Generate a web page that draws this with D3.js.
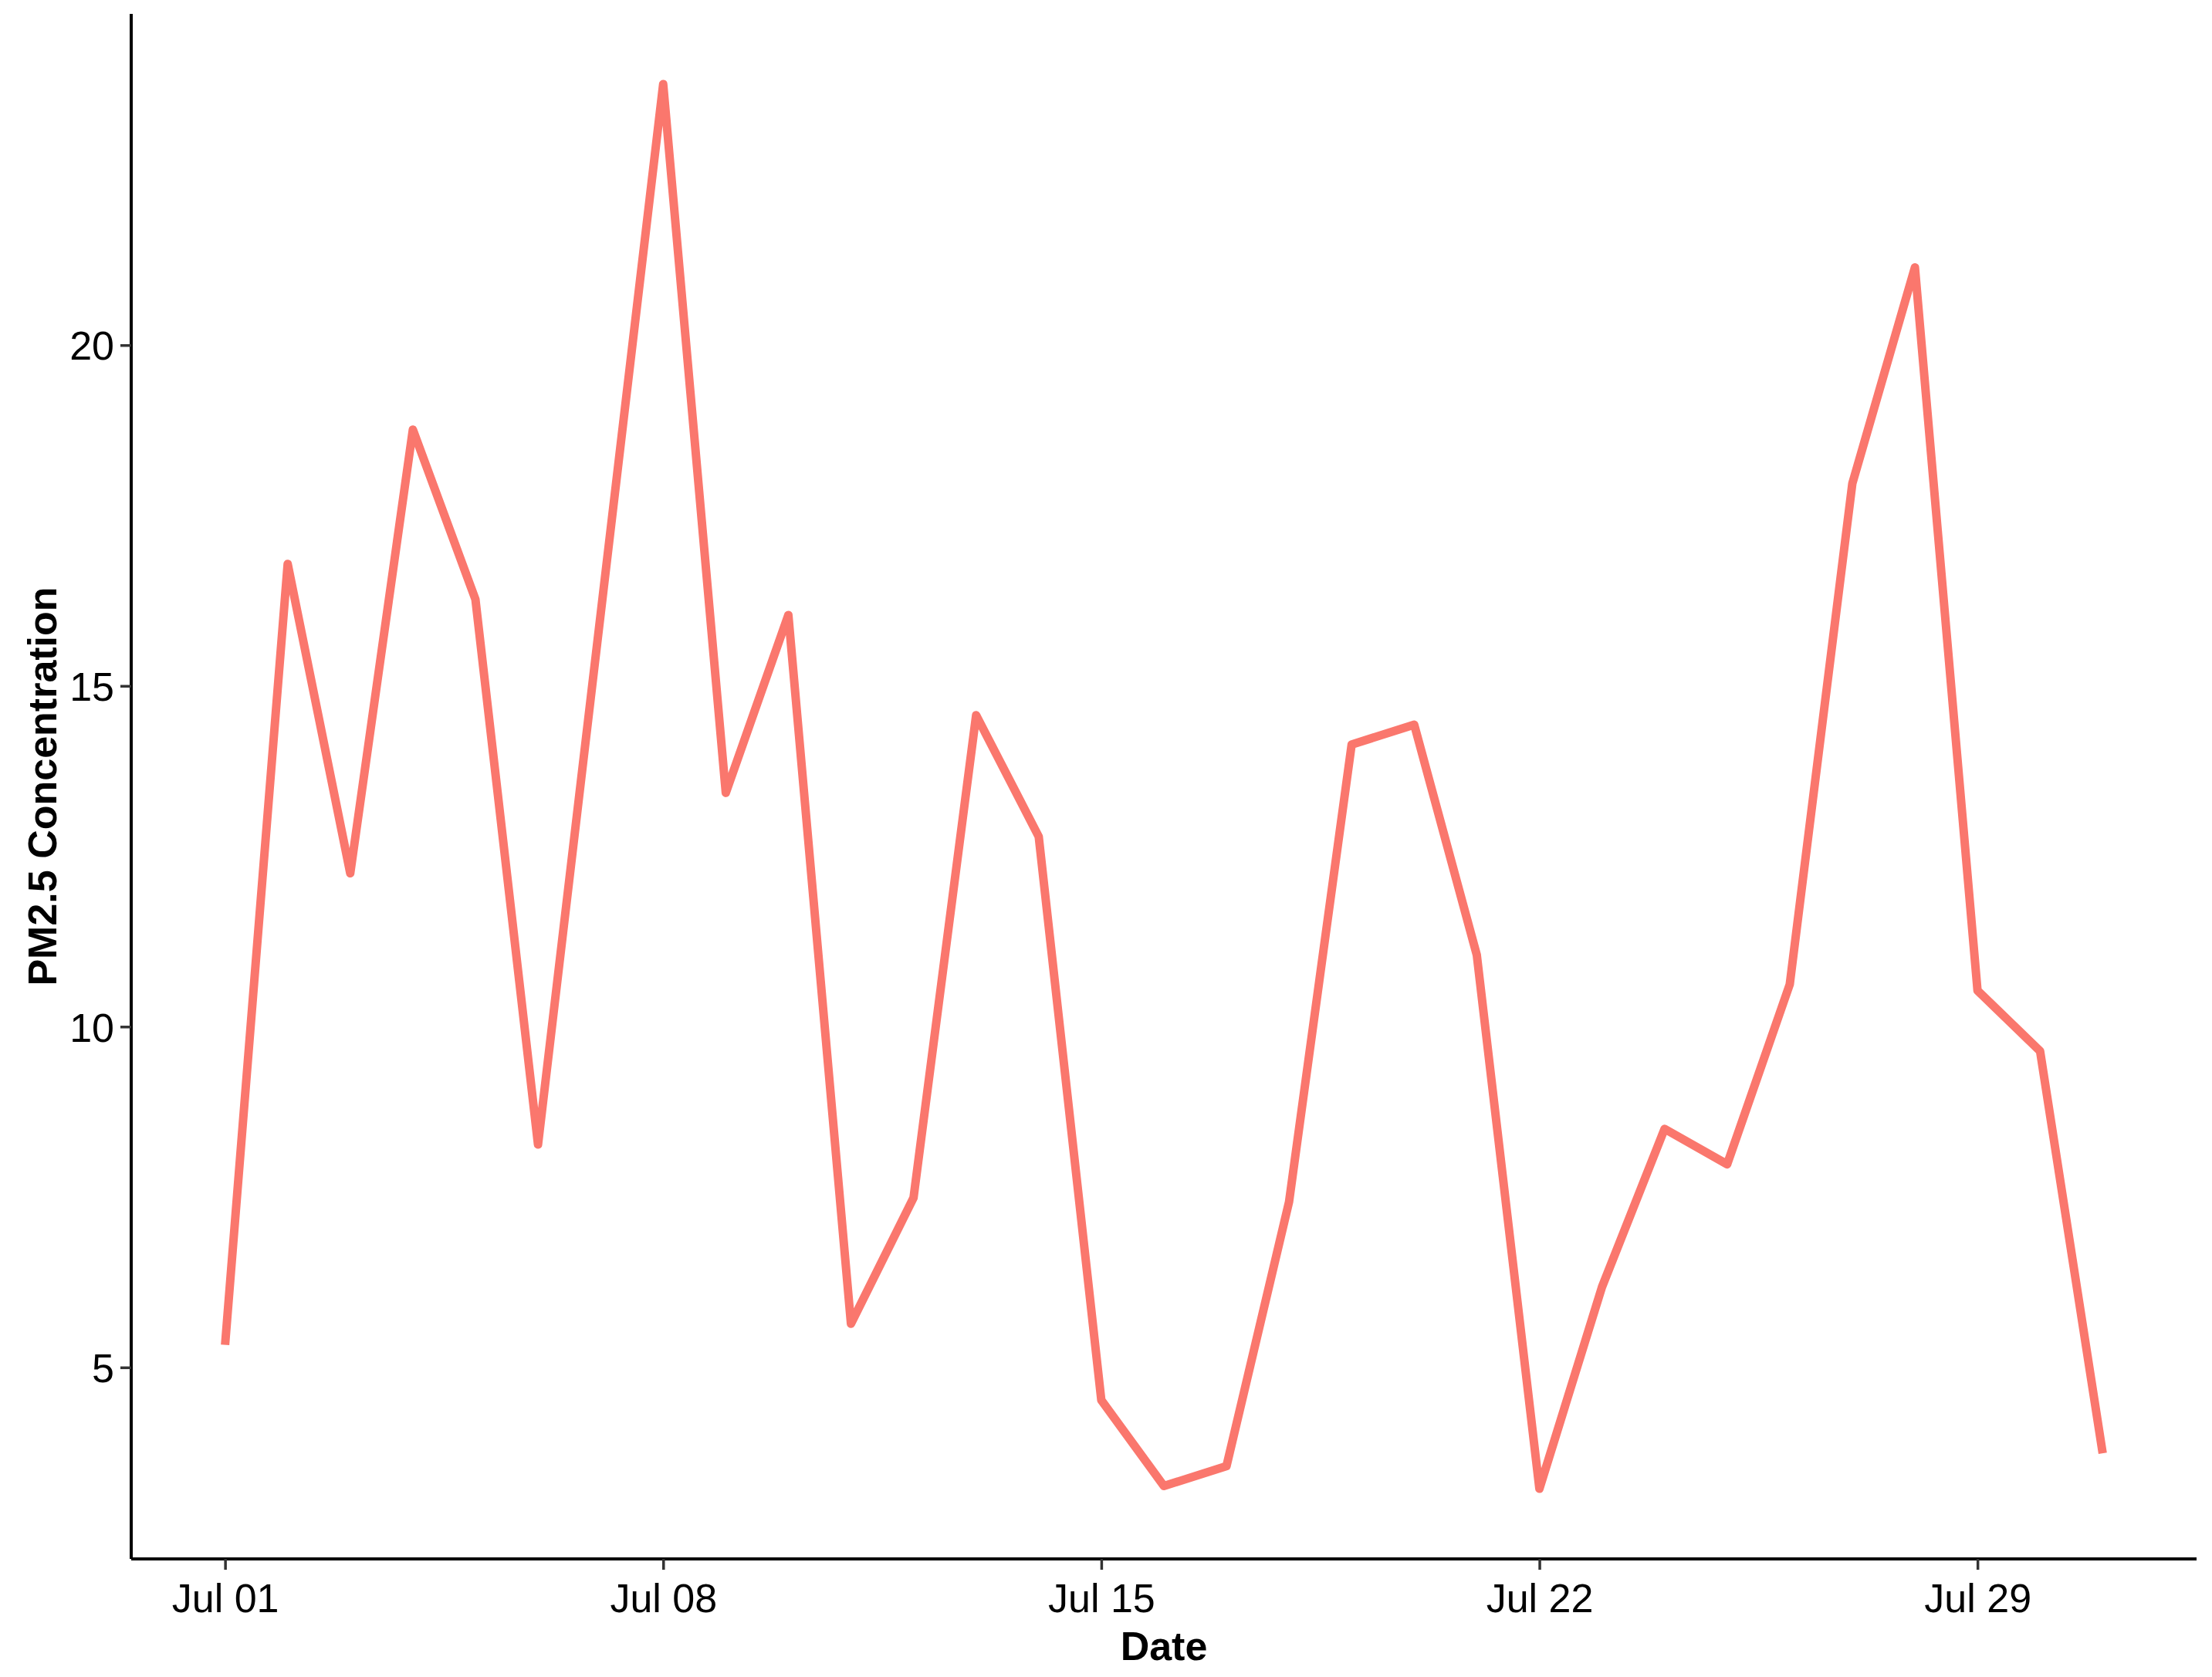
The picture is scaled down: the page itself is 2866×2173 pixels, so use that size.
<!DOCTYPE html>
<html>
<head>
<meta charset="utf-8">
<script src="https://cdn.jsdelivr.net/npm/d3@7"></script>
<style>
  html, body { margin: 0; padding: 0; background: #ffffff; }
  svg { display: block; }
</style>
</head>
<body>
<script>
// ---- data ----
const dates = [
  "2023-07-01","2023-07-02","2023-07-03","2023-07-04","2023-07-05","2023-07-06",
  "2023-07-07","2023-07-08","2023-07-09","2023-07-10","2023-07-11","2023-07-12",
  "2023-07-13","2023-07-14","2023-07-15","2023-07-16","2023-07-17","2023-07-18",
  "2023-07-19","2023-07-20","2023-07-21","2023-07-22","2023-07-23","2023-07-24",
  "2023-07-25","2023-07-26","2023-07-27","2023-07-28","2023-07-29","2023-07-30",
  "2023-07-31"
];
const pm25 = [
  5.33, 16.79, 12.25, 18.76, 16.27, 8.27,
  16.05, 23.83, 13.43, 16.04, 5.64, 7.49,
  14.57, 12.79, 4.52, 3.26, 3.55, 7.43,
  14.14, 14.43, 11.05, 3.22, 6.18, 8.50,
  7.98, 10.62, 17.97, 21.14, 10.53, 9.64,
  3.74
];
const yTicks = [5, 10, 15, 20];
const xTickDates = ["2023-07-01","2023-07-08","2023-07-15","2023-07-22","2023-07-29"];
const xTitle = "Date";
const yTitle = "PM2.5 Concentration";

// ---- layout ----
const W = 2866, H = 2173;
const L = 170, R = 2846, T = 18, B = 2020;
const parse = d3.utcParse("%Y-%m-%d");
const data = dates.map((d, i) => ({ date: parse(d), value: pm25[i] }));

const svg = d3.select("body").append("svg")
  .attr("width", W).attr("height", H)
  .style("font-family", "'Liberation Sans', Arial, sans-serif");

const xExt = d3.extent(data, d => d.date);
const span = xExt[1] - xExt[0];
const x = d3.scaleUtc()
  .domain([new Date(+xExt[0] - span * 0.05), new Date(+xExt[1] + span * 0.05)])
  .range([L, R]);

const yExt = d3.extent(data, d => d.value);
const ySpan = yExt[1] - yExt[0];
const y = d3.scaleLinear()
  .domain([yExt[0] - ySpan * 0.05, yExt[1] + ySpan * 0.05])
  .range([B, T]);

// line
const line = d3.line().x(d => x(d.date)).y(d => y(d.value));
svg.append("path")
  .datum(data)
  .attr("d", line)
  .attr("fill", "none")
  .attr("stroke", "#FA776D")
  .attr("stroke-width", 11)
  .attr("stroke-linejoin", "round")
  .attr("stroke-linecap", "butt");

// x axis
const xAxis = d3.axisBottom(x)
  .tickValues(xTickDates.map(parse))
  .tickFormat(d3.utcFormat("%b %d"))
  .tickSize(14)
  .tickPadding(16)
  .tickSizeOuter(0);
const gx = svg.append("g").attr("transform", `translate(0,${B})`).call(xAxis);
gx.select(".domain").attr("stroke", "#000").attr("stroke-width", 4)
  .attr("d", `M${L},0H${R}`);
gx.selectAll(".tick line").attr("stroke", "#333").attr("stroke-width", 3.5);
gx.selectAll(".tick text").attr("fill", "#000").style("font-size", "52px")
  .attr("dy", "0.75em");

// y axis
const yAxis = d3.axisLeft(y)
  .tickValues(yTicks)
  .tickSize(14)
  .tickPadding(8)
  .tickSizeOuter(0);
const gy = svg.append("g").attr("transform", `translate(${L},0)`).call(yAxis);
gy.select(".domain").attr("stroke", "#000").attr("stroke-width", 4)
  .attr("d", `M0,${T}V${B}`);
gy.selectAll(".tick line").attr("stroke", "#333").attr("stroke-width", 3.5);
gy.selectAll(".tick text").attr("fill", "#000").style("font-size", "52px")
  .attr("dy", "0.36em");

// titles
svg.append("text")
  .attr("x", (L + R) / 2).attr("y", 2151)
  .attr("text-anchor", "middle")
  .style("font-size", "52px").style("font-weight", "bold")
  .attr("fill", "#000")
  .text(xTitle);

svg.append("text")
  .attr("transform", `translate(73,${(T + B) / 2}) rotate(-90)`)
  .attr("text-anchor", "middle")
  .style("font-size", "52px").style("font-weight", "bold")
  .attr("fill", "#000")
  .text(yTitle);
</script>
</body>
</html>
